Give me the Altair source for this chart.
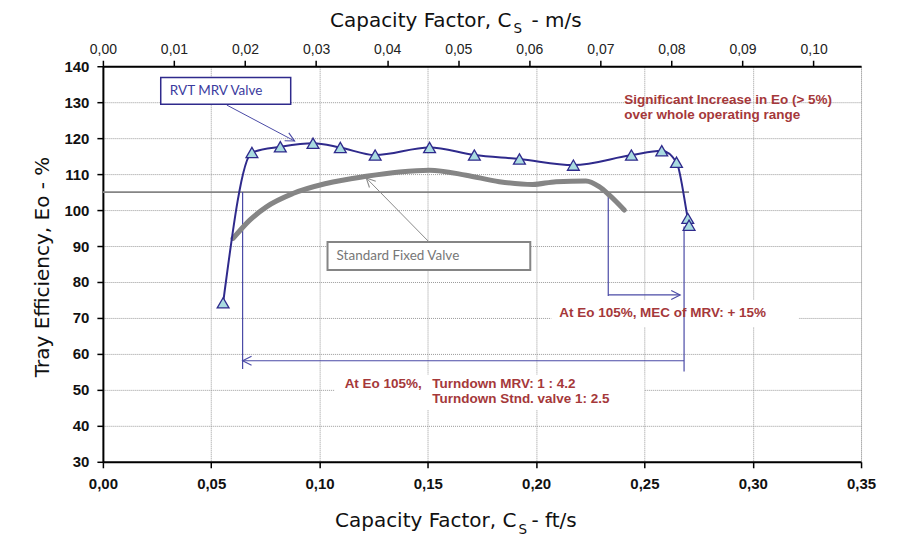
import altair as alt
import pandas as pd

# ---------------- data ----------------
# RVT MRV valve: capacity factor Cs [ft/s] and tray efficiency Eo [%]
mrv_cs = [0.0555, 0.0688, 0.0819, 0.0970, 0.1096, 0.1257, 0.1508, 0.1715,
          0.1923, 0.2172, 0.2440, 0.2580, 0.2648, 0.2700, 0.2706]
mrv_eo = [74.2, 116.0, 117.6, 118.6, 117.4, 115.3, 117.4, 115.3,
          114.2, 112.5, 115.3, 116.5, 113.3, 97.7, 95.8]

# Standard fixed valve curve
std_cs = [0.0601, 0.0678, 0.0755, 0.0877, 0.1031, 0.1216, 0.1369, 0.1508,
          0.1677, 0.1830, 0.1984, 0.2092, 0.2230, 0.2291, 0.2337, 0.2407]
std_eo = [92.1, 97.2, 100.9, 104.6, 107.4, 109.4, 110.6, 111.1,
          109.7, 107.9, 107.1, 107.9, 108.1, 106.5, 104.2, 100.0]

# axis ticks
ft_ticks = [0.00, 0.05, 0.10, 0.15, 0.20, 0.25, 0.30, 0.35]
ms_ticks = [0.00, 0.01, 0.02, 0.03, 0.04, 0.05, 0.06, 0.07, 0.08, 0.09, 0.10]
eo_ticks = [30, 40, 50, 60, 70, 80, 90, 100, 110, 120, 130, 140]
FT_PER_M = 3.28084

# reference level and annotation anchors (data units)
eo_ref = 105
ref_line_end = 0.2706
mrv_min_cs = 0.0645      # MRV at Eo 105 (low end)
std_max_cs = 0.2333      # standard valve at Eo 105 (high end)
mrv_max_cs = 0.2683      # MRV at Eo 105 (high end)
mec_arrow_eo = 76.4
turndown_arrow_eo = 58.1

# ---------------- styles ----------------
BLUE = "#2f2a8c"
THIN_BLUE = "#4a4aa6"
RED = "#a5383a"
GREY = "#858585"
FILL = "#a9dbe0"
LBL_FONT = "Liberation Sans"
TTL_FONT = "DejaVu Sans"

x_scale = alt.Scale(domain=[0, 0.35], nice=False, zero=False)
y_scale = alt.Scale(domain=[30, 140], nice=False, zero=False)
comma = "replace(format(datum.value, '.2f'), '.', ',')"

x_axis = alt.Axis(values=ft_ticks, labelExpr=comma, title=None, labelFlush=False,
                  labelOverlap=False,
                  labelFont=LBL_FONT, labelFontWeight="bold", labelFontSize=15,
                  labelColor="#111", labelPadding=9, tickSize=6, tickWidth=1.5,
                  tickColor="black", domainColor="black", domainWidth=2,
                  grid=True, gridDash=[1, 1], gridColor="#9a9a9a", gridWidth=1)
y_axis = alt.Axis(values=eo_ticks, title=None, labelOverlap=False,
                  labelFont=LBL_FONT, labelFontWeight="bold", labelFontSize=15,
                  labelColor="#111", labelPadding=8, tickSize=6, tickWidth=1.5,
                  tickColor="black", domainColor="black", domainWidth=2,
                  grid=True, gridDash=[1, 1], gridColor="#9a9a9a", gridWidth=1)


def X(f):
    return alt.X(f, type="quantitative", scale=x_scale, axis=x_axis)


def Y(f):
    return alt.Y(f, type="quantitative", scale=y_scale, axis=y_axis)


mrv_df = pd.DataFrame({"cs": mrv_cs, "eo": mrv_eo})
std_df = pd.DataFrame({"cs": std_cs, "eo": std_eo})

# white boxes behind annotation texts
boxes = pd.DataFrame({
    "x": [0.207, 0.107, 0.0267, 0.1037],
    "x2": [0.3213, 0.2499, 0.0867, 0.1973],
    "y": [75.0, 54.2, 136.9, 91.1],
    "y2": [67.5, 44.4, 129.4, 83.3],
    "stroke": ["white", "white", BLUE, GREY],
    "sw": [0, 0, 1.5, 2],
})
box_layer = alt.Chart(boxes).mark_rect(fill="white").encode(
    x=X("x"), x2="x2", y=Y("y"), y2="y2",
    stroke=alt.Stroke("stroke:N", scale=None),
    strokeWidth=alt.StrokeWidth("sw:Q", scale=None),
)

# thin guide lines (vertical / horizontal / arrows)
segs = pd.DataFrame({
    "x": [0.0, mrv_min_cs, std_max_cs, mrv_max_cs, std_max_cs, mrv_min_cs, 0.0572, 0.1506],
    "x2": [ref_line_end, mrv_min_cs, std_max_cs, mrv_max_cs, 0.2665, mrv_max_cs, 0.0885, 0.1216],
    "y": [eo_ref, eo_ref, eo_ref, 95.4, mec_arrow_eo, turndown_arrow_eo, 129.2, 91.1],
    "y2": [eo_ref, 55.8, 76.1, 55.1, mec_arrow_eo, turndown_arrow_eo, 119.2, 108.9],
    "color": [GREY, THIN_BLUE, THIN_BLUE, THIN_BLUE, THIN_BLUE, THIN_BLUE, THIN_BLUE, "#8a8a8a"],
    "w": [1.6, 1.2, 1.2, 1.2, 1.2, 1.2, 1.0, 1.0],
})
seg_layer = alt.Chart(segs).mark_rule().encode(
    x=X("x"), x2="x2", y=Y("y"), y2="y2",
    color=alt.Color("color:N", scale=None),
    strokeWidth=alt.StrokeWidth("w:Q", scale=None),
)

heads = pd.DataFrame({
    "x": [0.2665, mrv_min_cs, 0.0885, 0.1216],
    "y": [mec_arrow_eo, turndown_arrow_eo, 119.2, 108.9],
    "ang": [0, 180, 28, 225],
    "color": [THIN_BLUE, THIN_BLUE, THIN_BLUE, "#8a8a8a"],
})
head_layer = alt.Chart(heads).mark_point(
    shape="M-1,-0.5L0,0L-1,0.5", filled=False, size=320, strokeWidth=1.1, opacity=1
).encode(
    x=X("x"), y=Y("y"),
    angle=alt.Angle("ang:Q", scale=None),
    color=alt.Color("color:N", scale=None),
)

# the two curves
std_line = alt.Chart(std_df).mark_line(
    color=GREY, strokeWidth=5, interpolate="monotone", strokeCap="round"
).encode(x=X("cs"), y=Y("eo"))
mrv_line = alt.Chart(mrv_df).mark_line(
    color=BLUE, strokeWidth=2, interpolate="monotone"
).encode(x=X("cs"), y=Y("eo"))
mrv_pts = alt.Chart(mrv_df).mark_point(
    shape="triangle-up", size=140, filled=True, fill=FILL, stroke=BLUE,
    strokeWidth=1.3, opacity=1
).encode(x=X("cs"), y=Y("eo"))

# annotation texts
notes = pd.DataFrame({
    "x": [0.2407, 0.2407, 0.2584, 0.1116, 0.1521, 0.1521],
    "y": [130.6, 126.4, 71.4, 51.7, 51.7, 47.5],
    "t": ["Significant Increase in Eo (> 5%)", "over whole operating range",
          "At Eo 105%, MEC of MRV: + 15%", "At Eo 105%,",
          "Turndown MRV: 1 : 4.2", "Turndown Stnd. valve 1: 2.5"],
    "al": ["left", "left", "center", "left", "left", "left"],
})
note_layers = [
    alt.Chart(notes[notes.al == a]).mark_text(
        align=a, baseline="middle", font=LBL_FONT, fontWeight="bold",
        fontSize=13.5, color=RED
    ).encode(x=X("x"), y=Y("y"), text="t:N")
    for a in ["left", "center"]
]

labels = pd.DataFrame({
    "x": [0.0309, 0.1079],
    "y": [133.1, 87.2],
    "t": ["RVT MRV Valve", "Standard Fixed Valve"],
    "c": ["#3b3b9e", "#777777"],
})
label_layer = alt.Chart(labels).mark_text(
    align="left", baseline="middle", font="Lato", fontSize=13.5
).encode(x=X("x"), y=Y("y"), text="t:N", color=alt.Color("c:N", scale=None))

# axis titles with subscripts (pixel offsets from plot origin)
titles = pd.DataFrame({
    "t": ["Capacity Factor, C", "S", "- m/s", "Capacity Factor, C", "S", "- ft/s"],
    "px": [409, 411, 429, 414, 416, 429],
    "py": [-39.3, -32.8, -39.3, 461.7, 468.2, 461.7],
    "al": ["right", "left", "left", "right", "left", "left"],
    "fs": [20, 13.5, 20, 20, 13.5, 20],
})
title_layers = [
    alt.Chart(titles[titles.al == a]).mark_text(
        align=a, baseline="alphabetic", font=TTL_FONT, color="#111"
    ).encode(
        x=alt.X("px:Q", scale=None), y=alt.Y("py:Q", scale=None), text="t:N",
        size=alt.Size("fs:Q", scale=None),
    )
    for a in ["right", "left"]
]
ytitle = alt.Chart(pd.DataFrame({"t": ["Tray Efficiency, Eo - %"]})).mark_text(
    angle=270, align="center", baseline="middle", font=TTL_FONT, fontSize=20, color="#111"
).encode(x=alt.value(-60), y=alt.value(201), text="t:N")

main = alt.layer(
    box_layer, seg_layer, head_layer, std_line, mrv_line, mrv_pts,
    *note_layers, label_layer, *title_layers, ytitle,
)

# top axis in m/s
top_df = pd.DataFrame({"ms": ms_ticks, "eo": [140] * len(ms_ticks)})
top = alt.Chart(top_df).mark_point(opacity=0).encode(
    x=alt.X("ms:Q", scale=alt.Scale(domain=[0, 0.35 / FT_PER_M], nice=False, zero=False),
            axis=alt.Axis(orient="top", values=ms_ticks, labelExpr=comma, title=None,
                          labelFlush=False, labelOverlap=False,
                          labelFont=LBL_FONT, labelFontSize=14, labelColor="#222",
                          labelPadding=4, tickSize=6, tickWidth=1.5, tickColor="black",
                          domainColor="black", domainWidth=2, grid=False)),
    y=Y("eo"),
)

chart = alt.layer(main, top).resolve_scale(x="independent").properties(
    width=759, height=396,
    autosize=alt.AutoSizeParams(type="none"),
    padding={"left": 95, "top": 58, "right": 40, "bottom": 74},
).configure_view(stroke="black", strokeWidth=2).configure(background="white")

chart.save("out.html", embed_options={"renderer": "svg", "actions": False})
